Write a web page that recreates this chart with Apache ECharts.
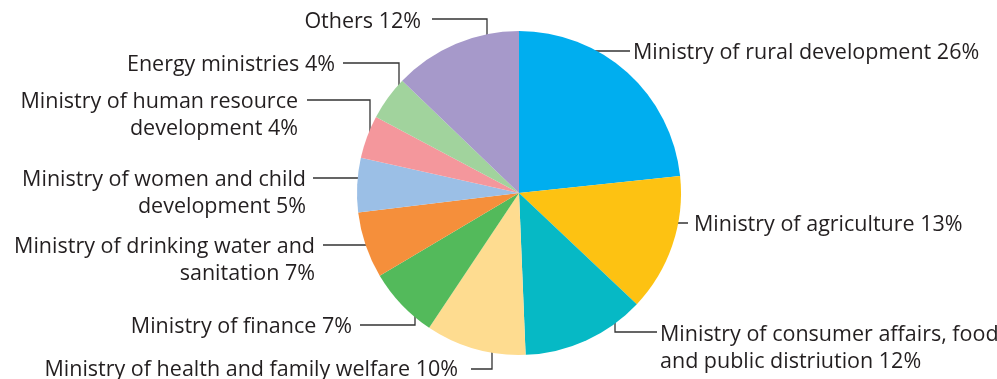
<!DOCTYPE html>
<html>
<head>
<meta charset="utf-8">
<script src="https://cdn.jsdelivr.net/npm/echarts@6/dist/echarts.min.js"></script>
<style>html,body{margin:0;padding:0;background:#fff}#c{width:997px;height:379px}</style>
</head>
<body>
<div id="c"></div>
<script>
// Categories (label text as printed) and slice shares
var categories = [
  'Ministry of rural development 26%',
  'Ministry of agriculture 13%',
  'Ministry of consumer affairs, food\nand public distriution 12%',
  'Ministry of health and family welfare 10%',
  'Ministry of finance 7%',
  'Ministry of drinking water and\nsanitation 7%',
  'Ministry of women and child\ndevelopment 5%',
  'Ministry of human resource\ndevelopment 4%',
  'Energy ministries 4%',
  'Others 12%'
];
var printedPercent = [26, 13, 12, 10, 7, 7, 5, 4, 4, 12];
var sliceValues = [23.3, 13.7, 12.3, 10.0, 7.1, 6.6, 5.4, 4.3, 4.4, 12.8];
var colors = ['#00AEEF', '#FDC212', '#06B9C5', '#FEDC90', '#53BA5B', '#F58F3B', '#9BBFE6', '#F4979C', '#A1D39D', '#A699CA'];

// Label layout (text anchor, alignment, leader-line route)
var labelLayouts = [
  {x: 633, y: 51, align: 'left', pts: [[578, 51], [604, 51], [630, 51]]},
  {x: 694, y: 223, align: 'left', pts: [[637, 223], [662, 223], [688, 223]]},
  {x: 660, y: 333, align: 'left', pts: [[615, 308], [615, 332], [657, 332]]},
  {x: 458, y: 368, align: 'right', pts: [[492, 344], [492, 369], [471, 369]]},
  {x: 352, y: 325, align: 'right', pts: [[415, 302], [415, 325], [360, 325]]},
  {x: 315, y: 245, align: 'right', pts: [[378, 262], [378, 245], [323, 245]]},
  {x: 306, y: 178, align: 'right', pts: [[369, 196], [369, 178], [313, 178]]},
  {x: 298, y: 100, align: 'right', pts: [[370, 148], [370, 100], [307, 100]]},
  {x: 335, y: 63, align: 'right', pts: [[399, 108], [399, 63], [343, 63]]},
  {x: 421, y: 20, align: 'right', pts: [[487, 64], [487, 19], [432, 19]]}
];

var LINE_H = 27;
var data = categories.map(function (name, i) {
  return { name: name, value: sliceValues[i], itemStyle: { color: colors[i] } };
});

var chart = echarts.init(document.getElementById('c'), null, { renderer: 'canvas' });
chart.setOption({
  animation: false,
  backgroundColor: '#ffffff',
  series: [{
    type: 'pie',
    center: [519, 193],
    radius: 162,
    startAngle: 90,
    clockwise: true,
    avoidLabelOverlap: false,
    data: data,
    itemStyle: { borderWidth: 0 },
    emphasis: { disabled: true },
    label: {
      show: true,
      position: 'outside',
      formatter: function (p) { return p.name; },
      fontFamily: 'Open Sans',
      fontSize: 21.5,
      lineHeight: LINE_H,
      color: '#231F20'
    },
    labelLine: {
      show: true,
      length: 10,
      length2: 10,
      smooth: false,
      lineStyle: { color: '#333333', width: 1.3 }
    },
    labelLayout: function (params) {
      var L = labelLayouts[params.dataIndex];
      return {
        x: L.x,
        y: L.y - LINE_H / 2 + 2,
        align: L.align,
        verticalAlign: 'top',
        labelLinePoints: L.pts
      };
    }
  }]
});
</script>
</body>
</html>
